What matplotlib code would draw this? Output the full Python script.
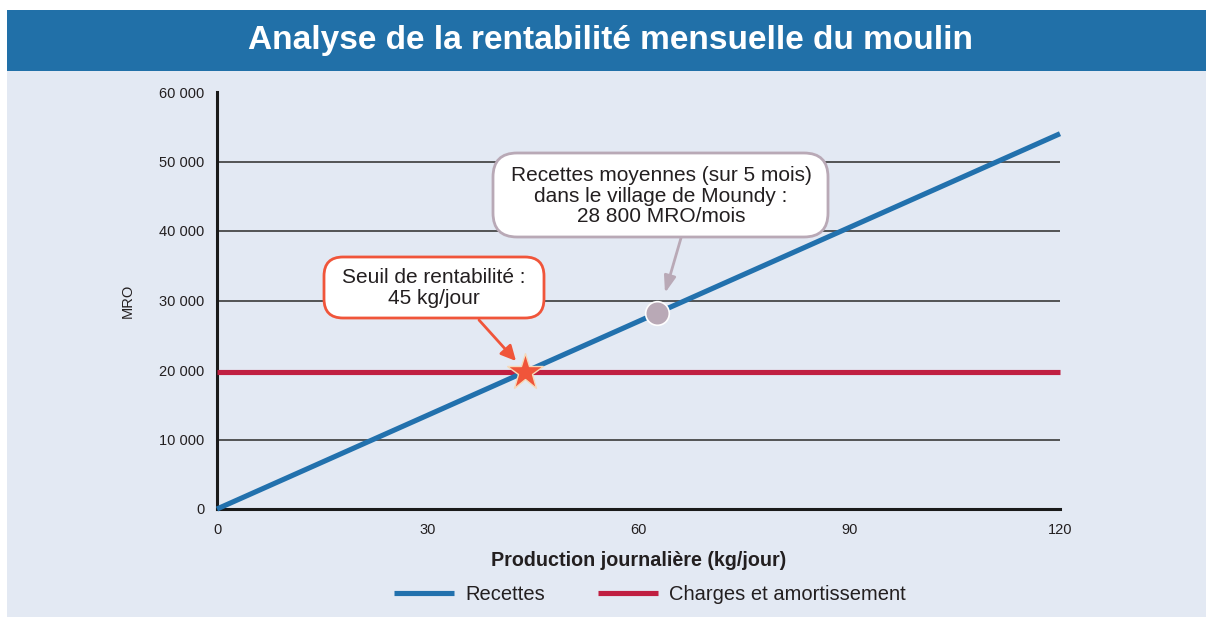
import matplotlib
matplotlib.use("Agg")
import matplotlib.pyplot as plt
from matplotlib.patches import Rectangle, FancyBboxPatch
from matplotlib.transforms import IdentityTransform

plt.rcParams['font.family'] = ['Liberation Sans', 'DejaVu Sans']

# ---- data ----
title = "Analyse de la rentabilité mensuelle du moulin"
x_recettes = [0, 120]
y_recettes = [0, 54000]
x_charges = [0, 120]
y_charges = [19700, 19700]
seuil_x, seuil_y = 43.8, 19700
moyen_x, moyen_y = 62.6, 28200
xticks = [0, 30, 60, 90, 120]
yticks = [0, 10000, 20000, 30000, 40000, 50000, 60000]
ytick_labels = ["0", "10 000", "20 000", "30 000", "40 000", "50 000", "60 000"]
gridlines = [10000, 30000, 40000, 50000]
xlabel = "Production journalière (kg/jour)"
ylabel = "MRO"
legend_labels = ["Recettes", "Charges et amortissement"]
seuil_text = "Seuil de rentabilité :\n45 kg/jour"
moyen_text = "Recettes moyennes (sur 5 mois)\ndans le village de Moundy :\n28 800 MRO/mois"

BLUE = "#2271ad"
RED = "#c01f41"
BANNER = "#2170a8"
BG = "#e3e9f3"
ORANGE = "#f0553a"
GREY = "#b9a9b6"
TXT = "#231f20"

W, H = 1206, 617
fig = plt.figure(figsize=(W / 100, H / 100), dpi=100)
fig.patch.set_facecolor("white")


def fy(py):
    """pixel row from top -> figure pixels from bottom"""
    return H - py


# background panel and banner
fig.add_artist(Rectangle((7 / W, 0), 1 - 7 / W, 1 - 71 / H, transform=fig.transFigure,
                         facecolor=BG, edgecolor="none", zorder=0))
fig.add_artist(Rectangle((7 / W, 1 - 71 / H), 1 - 7 / W, 61 / H, transform=fig.transFigure,
                         facecolor=BANNER, edgecolor="none", zorder=0))
fig.text(611 / W, 1 - 41 / H, title, ha="center", va="center", color="white",
         fontsize=24, fontweight="bold")

ax = fig.add_axes([217 / W, 1 - 509 / H, (1060 - 217) / W, (509 - 92) / H])
ax.set_facecolor("none")
ax.set_xlim(0, 120)
ax.set_ylim(0, 60000)

for g in gridlines:
    ax.axhline(g, color="#3a3a3a", lw=1.2, zorder=1)

ax.plot(x_charges, y_charges, color=RED, lw=3.7, solid_capstyle="butt", zorder=3,
        clip_on=False, label=legend_labels[1])
ax.plot(x_recettes, y_recettes, color=BLUE, lw=3.7, solid_capstyle="butt", zorder=4,
        clip_on=False, label=legend_labels[0])

ax.plot([seuil_x], [seuil_y], marker="*", markersize=28, color=ORANGE,
        markeredgecolor="#f6d9b8", markeredgewidth=1, zorder=6, clip_on=False)
ax.plot([moyen_x], [moyen_y], marker="o", markersize=17, color=GREY,
        markeredgecolor="white", markeredgewidth=1.2, zorder=6, clip_on=False)

for s in ["top", "right"]:
    ax.spines[s].set_visible(False)
for s in ["left", "bottom"]:
    ax.spines[s].set_linewidth(2.2)
    ax.spines[s].set_color("#1a1a1a")

ax.set_xticks(xticks)
ax.set_xticklabels([str(v) for v in xticks])
ax.set_yticks(yticks)
ax.set_yticklabels(ytick_labels)
ax.tick_params(length=0, labelsize=10.5, colors=TXT)
ax.tick_params(axis="x", pad=10)
ax.tick_params(axis="y", pad=9)
ax.set_xlabel(xlabel, fontsize=14.2, fontweight="bold", color=TXT, labelpad=10)
ax.set_ylabel(ylabel, fontsize=10.5, color=TXT, labelpad=18)

# ---- callouts (boxes placed in figure pixels) ----
idt = IdentityTransform()

# Seuil de rentabilité
fig.add_artist(FancyBboxPatch((324, fy(318)), 544 - 324, 318 - 257,
                              boxstyle="round,pad=0,rounding_size=19",
                              transform=idt, facecolor="white", edgecolor=ORANGE,
                              linewidth=2, zorder=7))
fig.text(434, fy(288), seuil_text, transform=idt, ha="center", va="center",
         fontsize=15, color=TXT, linespacing=1.15, zorder=8)
ax.annotate("", xy=(516, fy(361)), xycoords="figure pixels",
            xytext=(479, fy(320)), textcoords="figure pixels",
            arrowprops=dict(arrowstyle="-|>,head_length=0.9,head_width=0.45",
                            color=ORANGE, lw=2, shrinkA=0, shrinkB=0), zorder=7)

# Recettes moyennes
fig.add_artist(FancyBboxPatch((493, fy(237)), 828 - 493, 237 - 153,
                              boxstyle="round,pad=0,rounding_size=24",
                              transform=idt, facecolor="white", edgecolor=GREY,
                              linewidth=2, zorder=7))
fig.text(661, fy(196), moyen_text, transform=idt, ha="center", va="center",
         fontsize=15, color=TXT, linespacing=1.08, zorder=8)
ax.annotate("", xy=(665, fy(293)), xycoords="figure pixels",
            xytext=(681, fy(238)), textcoords="figure pixels",
            arrowprops=dict(arrowstyle="-|>,head_length=1.0,head_width=0.35",
                            color=GREY, lw=2, shrinkA=0, shrinkB=0), zorder=7)

# legend
h, l = ax.get_legend_handles_labels()
order = [1, 0]
fig.legend([h[i] for i in order], [l[i] for i in order], loc="center",
           bbox_to_anchor=(650 / W, 1 - 595 / H), ncol=2, frameon=False,
           fontsize=14.5, handlelength=3.0, columnspacing=2.6, handletextpad=0.55,
           labelcolor=TXT)

fig.savefig("out.png", dpi=100, facecolor="white")
